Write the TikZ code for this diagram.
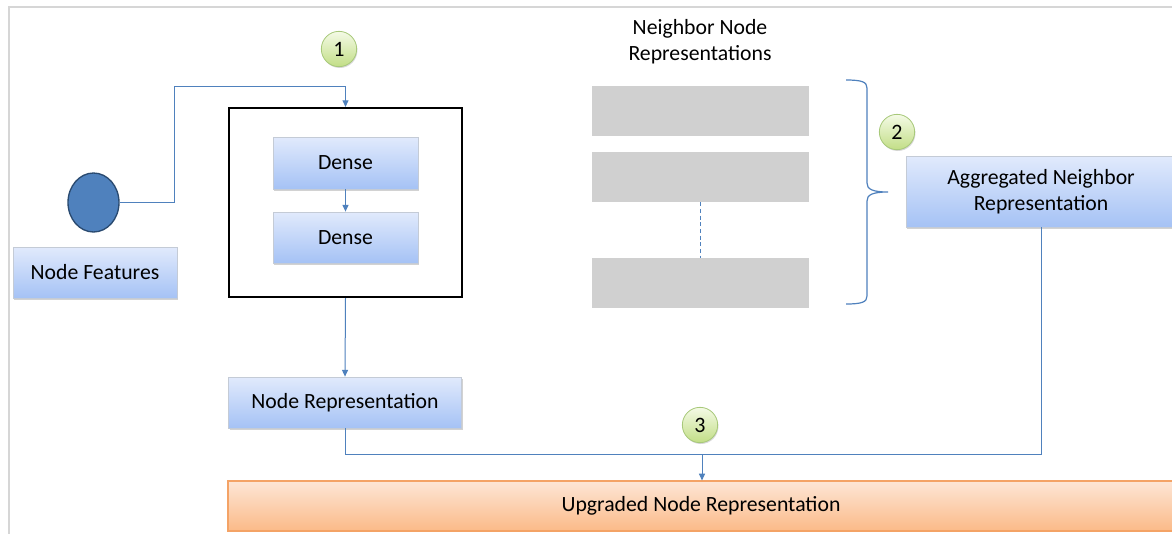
\documentclass[tikz,border=0pt]{standalone}
\usepackage{fontspec}
\setmainfont{Carlito}
\usetikzlibrary{shapes.geometric,arrows.meta,shadows}
\definecolor{lineblue}{HTML}{4F81BD}
\definecolor{boxtop}{HTML}{E1EAFC}
\definecolor{boxbot}{HTML}{A5C2F5}
\definecolor{boxedge}{HTML}{C4CBD6}
\definecolor{graybar}{HTML}{D0D0D0}
\definecolor{frame}{HTML}{D6D6D6}
\definecolor{orgtop}{HTML}{FDE6D6}
\definecolor{orgbot}{HTML}{FBBA88}
\definecolor{orgedge}{HTML}{F4A366}
\definecolor{grtop}{HTML}{F4FAE6}
\definecolor{grbot}{HTML}{C2DE86}
\definecolor{gredge}{HTML}{A8C97A}
\definecolor{circfill}{HTML}{4F81BD}
\definecolor{circedge}{HTML}{2A4A70}
\tikzset{
  txt/.style={font=\fontsize{16.3pt}{19.5pt}\selectfont, text=black},
  bluebox/.style={txt, rectangle, draw=boxedge, line width=0.6pt, top color=boxtop, bottom color=boxbot,
    drop shadow={opacity=0.35, shadow xshift=0.8pt, shadow yshift=-1.2pt}, inner sep=0pt, align=center},
  orangebox/.style={txt, rectangle, draw=orgedge, line width=0.9pt, top color=orgtop, bottom color=orgbot, inner sep=0pt},
  graybox/.style={rectangle, fill=graybar, minimum width=162.75pt, minimum height=37.5pt, inner sep=0pt},
  numcirc/.style={circle, draw=gredge, line width=0.6pt, top color=grtop, bottom color=grbot,
    drop shadow={opacity=0.3, shadow xshift=0.6pt, shadow yshift=-1pt},
    font=\fontsize{16.5pt}{18pt}\selectfont, inner sep=0pt, minimum size=26.5pt},
  conn/.style={draw=lineblue, line width=0.75pt},
  arr/.style={conn, -{Triangle[length=5pt,width=4.5pt]}},
}
\begin{document}
\begin{tikzpicture}[x=0.75pt,y=-0.75pt]
\useasboundingbox (0,0) rectangle (1172,533);
\fill[white] (0,0) rectangle (1172,533);
% frame
\draw[frame, line width=1.5pt] (9,540) -- (9,7) -- (1180,7);

% left part
\node[ellipse, draw=circedge, line width=1pt, fill=circfill, minimum width=38.25pt, minimum height=44.25pt, inner sep=0pt] (circ) at (93.5,202.5) {};
\node[bluebox, minimum width=123pt, minimum height=38.25pt] (feat) at (95,272.5) {Node Features};
\node[draw=black, line width=1.6pt, minimum width=174.75pt, minimum height=141.75pt, inner sep=0pt] (blk) at (345.5,202.5) {};
\node[bluebox, minimum width=108.75pt, minimum height=39pt] (d1) at (345.5,163) {Dense};
\node[bluebox, minimum width=108.75pt, minimum height=38.25pt] (d2) at (345.5,237.5) {Dense};
\node[numcirc] (c1) at (339,49) {1};
\node[bluebox, minimum width=174.75pt, minimum height=38.25pt] (nrep) at (345,402.5) {Node Representation};

% neighbor part
\node[txt, align=center] (ntitle) at (700,42) {Neighbor Node\\Representations};
\node[graybox] (g1) at (700.5,111) {};
\node[graybox] (g2) at (700.5,177) {};
\node[graybox] (g3) at (700.5,283) {};
\draw[conn, dashed, dash pattern=on 3pt off 2pt, line width=0.6pt] (g2.south) -- (g3.north);

\coordinate (bt) at (846,80);
\coordinate (btip) at (888,192);
\coordinate (bb) at (846,304);
\draw[conn, line width=0.9pt] (bt) .. controls (862,80) and (867,82) .. (867,88) -- (867,183)
  .. controls (867,189) and (872,192) .. (btip)
  .. controls (872,192) and (867,195) .. (867,201) -- (867,296)
  .. controls (867,302) and (862,304) .. (bb);
\node[numcirc] (c2) at (897,132) {2};
\node[bluebox, minimum width=202.5pt, minimum height=53.25pt] (agg) at (1041,191.5) {Aggregated Neighbor\\Representation};

% bottom
\node[orangebox, minimum width=709.5pt, minimum height=37.5pt] (upg) at (701,506) {Upgraded Node Representation};
\node[numcirc] (c3) at (700,425) {3};

% connectors
\coordinate (k1) at (174,86);
\draw[arr] (circ.east) -- (circ.east -| k1) -- (k1) -- (k1 -| blk.north) -- (blk.north);
\draw[arr] (d1.south) -- (d2.north);
\draw[arr] (blk.south) -- (nrep.north);
\coordinate (j) at (702,454);
\draw[conn] (nrep.south) -- (nrep.south |- j) -- (j);
\draw[conn] (agg.south) -- (agg.south |- j) -- (j);
\draw[arr] (j) -- (j |- upg.north);
\end{tikzpicture}
\end{document}
